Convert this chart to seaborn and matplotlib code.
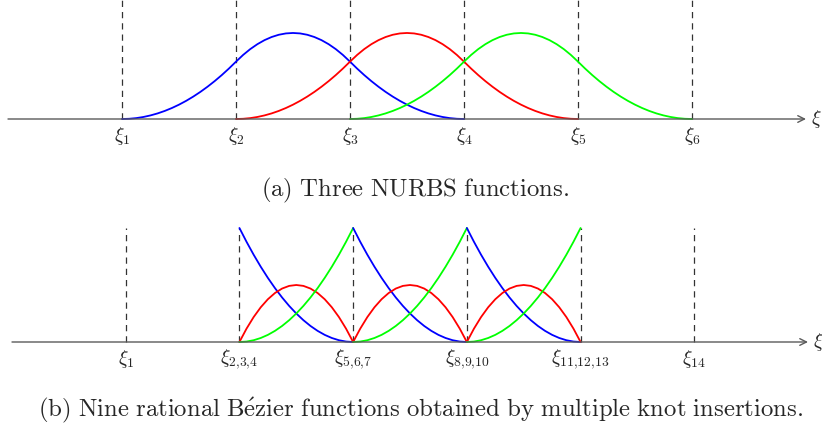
import matplotlib
matplotlib.use("Agg")
import matplotlib.pyplot as plt
import seaborn as sns
import pandas as pd

sns.set_theme(style="white")
plt.rcParams["mathtext.fontset"] = "cm"
plt.rcParams["font.family"] = ["DejaVu Serif"]

# ---------------- data ----------------
# (a) uniform knots, three quadratic NURBS functions
top_knots = [1, 2, 3, 4, 5, 6]
top_labels = [r"$\xi_1$", r"$\xi_2$", r"$\xi_3$", r"$\xi_4$", r"$\xi_5$", r"$\xi_6$"]
# one quadratic basis function read every 1/16 of a knot span over its 3 spans
nurbs_shape = [0.0, 0.002, 0.0078, 0.0176, 0.0313, 0.0488, 0.0703, 0.0957, 0.125,
               0.1582, 0.1953, 0.2363, 0.2813, 0.3301, 0.3828, 0.4395, 0.5,
               0.5586, 0.6094, 0.6523, 0.6875, 0.7148, 0.7344, 0.7461, 0.75,
               0.7461, 0.7344, 0.7148, 0.6875, 0.6523, 0.6094, 0.5586, 0.5,
               0.4395, 0.3828, 0.3301, 0.2813, 0.2363, 0.1953, 0.1582, 0.125,
               0.0957, 0.0703, 0.0488, 0.0313, 0.0176, 0.0078, 0.002, 0.0]
nurbs_step = 1.0 / 16
nurbs_starts = [1, 2, 3]          # blue, red, green
nurbs_colors = ["#0000ff", "#ff0000", "#00ff00"]

# (b) knots after multiple insertion, three Bezier elements
bot_knots = [1, 2, 3, 4, 5, 6]
bot_labels = [r"$\xi_1$", r"$\xi_{2{,}3{,}4}$", r"$\xi_{5{,}6{,}7}$", r"$\xi_{8{,}9{,}10}$",
              r"$\xi_{11{,}12{,}13}$", r"$\xi_{14}$"]
element_starts = [2, 3, 4]
bern_blue = [1.0, 0.8789, 0.7656, 0.6602, 0.5625, 0.4727, 0.3906, 0.3164, 0.25,
             0.1914, 0.1406, 0.0977, 0.0625, 0.0352, 0.0156, 0.0039, 0.0]
bern_red = [0.0, 0.1172, 0.2188, 0.3047, 0.375, 0.4297, 0.4688, 0.4922, 0.5,
            0.4922, 0.4688, 0.4297, 0.375, 0.3047, 0.2188, 0.1172, 0.0]
bern_green = [0.0, 0.0039, 0.0156, 0.0352, 0.0625, 0.0977, 0.1406, 0.1914, 0.25,
              0.3164, 0.3906, 0.4727, 0.5625, 0.6602, 0.7656, 0.8789, 1.0]
bern_step = 1.0 / 16

caption_a = r"$\mathrm{(a)\ Three\ NURBS\ functions.}$"
caption_b = r"$\mathrm{(b)\ Nine\ rational\ B\acute{e}zier\ functions\ obtained\ by\ multiple\ knot\ insertions.}$"

# ---------------- figure ----------------
W, H = 822, 429
fig = plt.figure(figsize=(W / 100, H / 100), dpi=100)
fig.patch.set_facecolor("white")

def px_axes(left, right, base, top):
    return fig.add_axes([left / W, (H - base) / H, (right - left) / W, (base - top) / H])

axis_col = "#5a5a5a"
dash_col = "#333333"

def style_axes(ax, knots, labels, ytop):
    ax.set_xlim(0, 7)
    ax.set_ylim(0, ytop)
    for s in ax.spines.values():
        s.set_visible(False)
    ax.set_yticks([])
    ax.set_xticks(knots)
    ax.set_xticklabels(labels, fontsize=14)
    ax.tick_params(axis="x", length=0, pad=4)
    ax.set_xlabel("")
    ax.set_ylabel("")
    ax.patch.set_alpha(0)
    ax.annotate("", xy=(7.0, 0), xytext=(0, 0), xycoords="data",
                arrowprops=dict(arrowstyle="->", color=axis_col, lw=1.0,
                                shrinkA=0, shrinkB=0), annotation_clip=False)
    ax.text(7.04, 0, r"$\xi$", fontsize=14, ha="left", va="center")

# top panel
ax1 = px_axes(8, 806, 119, 0)
top_h = 119 / 114.7
ax1.vlines(top_knots, 0, top_h, colors=dash_col, linestyles=(0, (5, 4)), lw=0.9, clip_on=False)
for start, col in zip(nurbs_starts, nurbs_colors):
    df = pd.DataFrame({"x": [start + i * nurbs_step for i in range(len(nurbs_shape))],
                       "y": nurbs_shape})
    sns.lineplot(data=df, x="x", y="y", ax=ax1, color=col, lw=1.3, sort=False,
                 estimator=None, clip_on=False)
style_axes(ax1, top_knots, top_labels, top_h)

# bottom panel
ax2 = px_axes(12, 808, 342, 228 - 6)
bot_h = 120 / 114
ax2.vlines(bot_knots, 0, 1.0, colors=dash_col, linestyles=(0, (5, 4)), lw=0.9, clip_on=False)
for start in element_starts:
    xs = [start + i * bern_step for i in range(len(bern_blue))]
    for vals, col in zip([bern_blue, bern_red, bern_green], nurbs_colors):
        df = pd.DataFrame({"x": xs, "y": vals})
        sns.lineplot(data=df, x="x", y="y", ax=ax2, color=col, lw=1.3, sort=False,
                     estimator=None, clip_on=False)
style_axes(ax2, bot_knots, bot_labels, bot_h)

fig.text(415 / W, 1 - 190 / H, caption_a, fontsize=17.8, ha="center", va="center")
fig.text(420 / W, 1 - 410 / H, caption_b, fontsize=17.8, ha="center", va="center")

fig.savefig("out.png", dpi=100, facecolor="white")
